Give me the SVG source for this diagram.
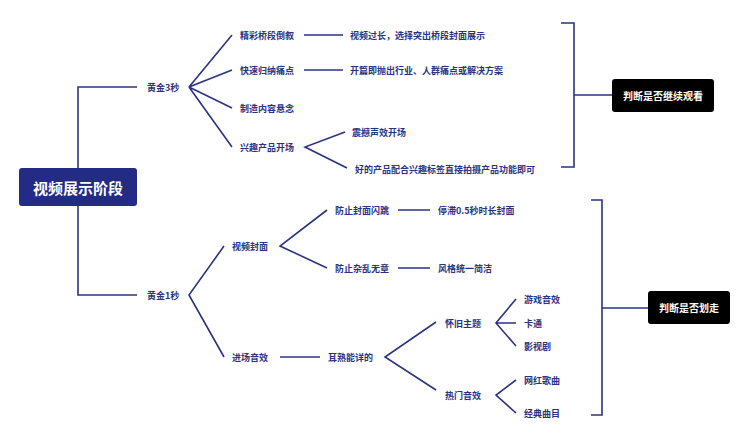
<svg xmlns="http://www.w3.org/2000/svg" width="744" height="435" viewBox="0 0 744 435">
<style>
.t{font-family:"Noto Sans CJK SC","Noto Sans",sans-serif;font-size:9px;font-weight:bold;fill:#2b3380;dominant-baseline:central}
.w{font-family:"Noto Sans CJK SC","Noto Sans",sans-serif;font-weight:bold;fill:#fff;dominant-baseline:central;text-anchor:middle}
.c{fill:none;stroke:#2b3380;stroke-width:1.6}
</style>
<rect width="744" height="435" fill="#fff"/>
<g id="connectors" class="c">
<path d="M137,87H78V295H137"/>
<path d="M232,35L189,87L232,70M189,87L232,108M189,87L232,147"/>
<path d="M304,35H343M304,70H343"/>
<path d="M345,132L305,147L347,168"/>
<path d="M224,246L189,295L224,357"/>
<path d="M327,210L280,246L327,268"/>
<path d="M398,210H430M398,268H430"/>
<path d="M280,357H320"/>
<path d="M436,322L385,357L436,390"/>
<path d="M516,299L496,323L516,346M496,323H516"/>
<path d="M516,380L496,395L516,413"/>
<path d="M561,23H574V167H561M574,95H612"/>
<path d="M591,200H602V415H591M602,308H648"/>
</g>
<g id="root"><rect x="19" y="168" width="118" height="38" rx="3" fill="#232b85"/><text class="w" x="78" y="187" font-size="15">视频展示阶段</text></g>
<g id="n3s"><text class="t" x="147" y="87">黄金3秒</text></g>
<g id="n1"><text class="t" x="240" y="35">精彩桥段倒叙</text></g>
<g id="n1a"><text class="t" x="350" y="35">视频过长，选择突出桥段封面展示</text></g>
<g id="n2"><text class="t" x="240" y="70">快速归纳痛点</text></g>
<g id="n2a"><text class="t" x="350" y="70">开篇即抛出行业、人群痛点或解决方案</text></g>
<g id="n3"><text class="t" x="240" y="108">制造内容悬念</text></g>
<g id="n4"><text class="t" x="240" y="147">兴趣产品开场</text></g>
<g id="n4a"><text class="t" x="352" y="132">震撼声效开场</text></g>
<g id="n4b"><text class="t" x="355" y="169">好的产品配合兴趣标签直接拍摄产品功能即可</text></g>
<g id="n1s"><text class="t" x="147" y="295">黄金1秒</text></g>
<g id="cover"><text class="t" x="232" y="246">视频封面</text></g>
<g id="c1"><text class="t" x="335" y="210">防止封面闪跳</text></g>
<g id="c1a"><text class="t" x="438" y="210">停滞0.5秒时长封面</text></g>
<g id="c2"><text class="t" x="335" y="268">防止杂乱无章</text></g>
<g id="c2a"><text class="t" x="438" y="268">风格统一简洁</text></g>
<g id="sound"><text class="t" x="232" y="357">进场音效</text></g>
<g id="s1"><text class="t" x="328" y="357">耳熟能详的</text></g>
<g id="s2"><text class="t" x="445" y="323">怀旧主题</text></g>
<g id="s2a"><text class="t" x="524" y="299">游戏音效</text></g>
<g id="s2b"><text class="t" x="524" y="323">卡通</text></g>
<g id="s2c"><text class="t" x="524" y="346">影视剧</text></g>
<g id="s3"><text class="t" x="445" y="395">热门音效</text></g>
<g id="s3a"><text class="t" x="524" y="380">网红歌曲</text></g>
<g id="s3b"><text class="t" x="524" y="413">经典曲目</text></g>
<g id="j1"><rect x="612" y="79" width="102" height="33" rx="3" fill="#000"/><text class="w" x="663" y="95.5" font-size="10">判断是否继续观看</text></g>
<g id="j2"><rect x="648" y="291" width="82" height="33" rx="3" fill="#000"/><text class="w" x="689" y="307.5" font-size="10">判断是否划走</text></g>
</svg>
